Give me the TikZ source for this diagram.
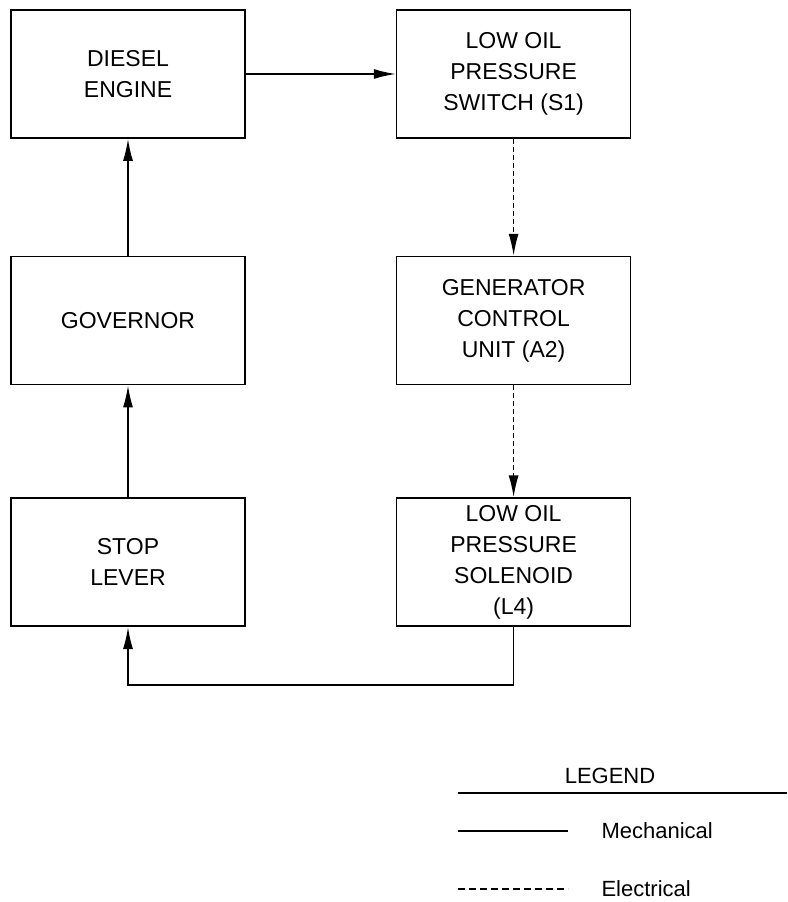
\documentclass[tikz,border=0pt]{standalone}
\usepackage{fontspec}
\setmainfont{Liberation Sans}
\usepackage{tikz}
\usetikzlibrary{positioning, arrows.meta}

\tikzset{
	block/.style={draw, line width=1.6pt, minimum width=234pt, minimum height=128pt, inner sep=0pt, align=center, font=\fontsize{23}{31}\selectfont},
	mech/.style={line width=1.6pt, -{Latex[length=22pt,width=10pt]}},
	elec/.style={line width=1.6pt, dash pattern=on 5pt off 3pt, -{Latex[length=22pt,width=10pt]}},
}

\begin{document}
\begin{tikzpicture}[x=1pt, y=-1pt, node distance=117pt and 150pt]
		\useasboundingbox (0,0) rectangle (787,902);
		\node[block] (eng) at (128,74) {DIESEL\\ENGINE};
		\node[block, right = of eng] (sw) {LOW OIL\\PRESSURE\\SWITCH (S1)};
		\node[block, below = of eng] (gov) {GOVERNOR};
		\node[block, below = of sw] (gcu) {GENERATOR\\CONTROL\\UNIT (A2)};
		\node[block, below = 112pt of gov] (stop) {STOP\\LEVER};
		\node[block, below = 112pt of gcu] (sol) {LOW OIL\\PRESSURE\\SOLENOID\\(L4)};
		\coordinate (fb) at (sol.south |- 0,685);
		
		\draw[mech] (eng) -- (sw);
		\draw[mech] (gov) -- (eng);
		\draw[mech] (stop) -- (gov);
		\draw[elec] (sw) -- (gcu);
		\draw[elec] (gcu) -- (sol);
		\draw[mech] (sol.south) -- (fb) -| (stop.south);
		
		% legend
		\node[font=\fontsize{22}{26}\selectfont] (leg) at (610,776) {LEGEND};
		\coordinate (l1) at (458,793);
		\coordinate (l2) at (787,793);
		\coordinate (m1) at (458,831);
		\coordinate (m2) at (568,831);
		\coordinate (e1) at (458,889);
		\coordinate (e2) at (568,889);
		\draw[line width=1.6pt] (l1) -- (l2);
		\draw[line width=1.6pt] (m1) -- (m2);
		\draw[line width=1.3pt, dash pattern=on 7pt off 4pt] (e1) -- (e2);
		\node[anchor=west, font=\fontsize{22}{26}\selectfont] (mt) at (598,831) {Mechanical};
		\node[anchor=west, font=\fontsize{22}{26}\selectfont] (et) at (598,889) {Electrical};
	\end{tikzpicture}
\end{document}
